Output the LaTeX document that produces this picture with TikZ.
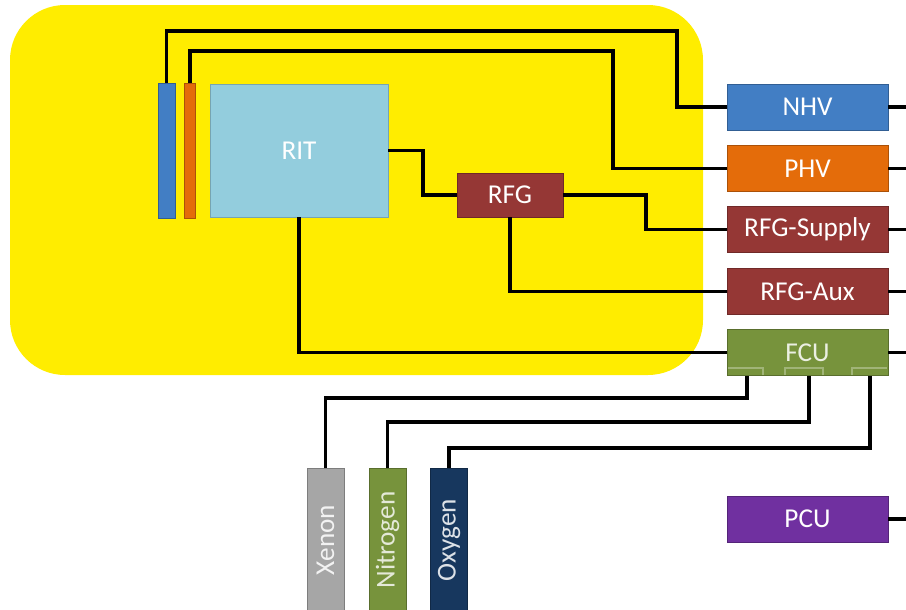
\documentclass[tikz,border=0pt]{standalone}
\usepackage{fontspec}
\setmainfont{Carlito}
\definecolor{tankyellow}{RGB}{255,237,0}
\definecolor{nhvblue}{RGB}{66,126,196}
\definecolor{phvorange}{RGB}{228,108,10}
\definecolor{rfgred}{RGB}{149,55,53}
\definecolor{fcugreen}{RGB}{119,147,60}
\definecolor{ritblue}{RGB}{147,205,221}
\definecolor{xegray}{RGB}{166,166,166}
\definecolor{oxnavy}{RGB}{23,55,94}
\definecolor{pcupurple}{RGB}{112,48,160}
\begin{document}
\begin{tikzpicture}[x=0.02cm,y=-0.02cm,
    wire/.style={line width=2.2pt},
    unit/.style={rectangle,fill=#1,draw=#1!75!black,line width=0.5pt,inner sep=0pt,
        text=white,minimum width=3.22cm,minimum height=0.92cm,font=\fontsize{15.5}{18}\selectfont},
    gas/.style={rectangle,fill=#1,draw=#1!75!black,line width=0.5pt,inner sep=0pt,
        minimum width=0.74cm,minimum height=2.88cm,font=\fontsize{15.5}{18}\selectfont},
    port/.style={fcugreen!70!white,line width=0.8pt}]
    \clip (0,0) rectangle (906,609);
    % vacuum chamber
    \fill[tankyellow,rounded corners=1.1cm] (10,5) rectangle (703,375);
    \node[rectangle,fill=ritblue,draw=ritblue!80!black,line width=0.5pt,minimum width=3.56cm,minimum height=2.66cm,
        text=white,font=\fontsize{15.5}{18}\selectfont] (rit) at (299,150.5) {RIT};
    \node[rectangle,fill=nhvblue,draw=nhvblue!75!black,line width=0.5pt,minimum width=0.34cm,minimum height=2.7cm,inner sep=0pt] (nbar) at (166.5,150.5) {};
    \node[rectangle,fill=phvorange,draw=phvorange!75!black,line width=0.5pt,minimum width=0.22cm,minimum height=2.7cm,inner sep=0pt] (pbar) at (190,150.5) {};
    \node[unit=rfgred,minimum width=2.12cm,minimum height=0.88cm] (rfg) at (510,195) {RFG};
    % supplies
    \node[unit=nhvblue] (nhv) at (807.5,107) {NHV};
    \node[unit=phvorange] (phv) at (807.5,168.5) {PHV};
    \node[unit=rfgred] (supply) at (807.5,229.5) {RFG-Supply};
    \node[unit=rfgred] (aux) at (807.5,291.5) {RFG-Aux};
    \node[unit=fcugreen,text=white!85!fcugreen] (fcu) at (807.5,352.5) {FCU};
    \node[unit=pcupurple] (pcu) at (807.5,519) {PCU};
    % gas bottles
    \node[gas=xegray,text=white!85!xegray] (xenon) at (325.5,540) {\rotatebox{90}{Xenon}};
    \node[gas=fcugreen,text=white!80!fcugreen] (nitrogen) at (387.5,540) {\rotatebox{90}{Nitrogen}};
    \node[gas=oxnavy,text=white!85!oxnavy] (oxygen) at (449,540) {\rotatebox{90}{Oxygen}};
    % fcu ports
    \draw[port] (728,368) -- (763,368) -- (763,375);
    \draw[port] (785,375) -- (785,368) -- (823,368) -- (823,375);
    \draw[port] (852,375) -- (852,368) -- (887,368);
    \coordinate (xeport) at (fcu.south -| 747,0);
    \coordinate (n2port) at (fcu.south -| 809,0);
    \coordinate (o2port) at (fcu.south -| 870,0);
    % cables
    \draw[wire] (nbar.north) |- (677,31) |- (nhv.west);
    \draw[wire] (pbar.north) |- (613,51) |- (phv.west);
    \draw[wire] (rit.east) -| (423,195) -- (rfg.west);
    \draw[wire] (rfg.east) -| (646,229.5) -- (supply.west);
    \draw[wire] (rfg.south) |- (aux.west);
    \draw[wire] (rit.south) |- (fcu.west);
    \draw[wire] (xenon.north) |- (xeport |- 0,398) -- (xeport);
    \draw[wire] (nitrogen.north) |- (n2port |- 0,422) -- (n2port);
    \draw[wire] (oxygen.north) |- (o2port |- 0,448) -- (o2port);
    \foreach \n in {nhv,phv,supply,aux,fcu,pcu}
        \draw[wire] (\n.east) -- (\n.east -| 920,0);
\end{tikzpicture}
\end{document}
